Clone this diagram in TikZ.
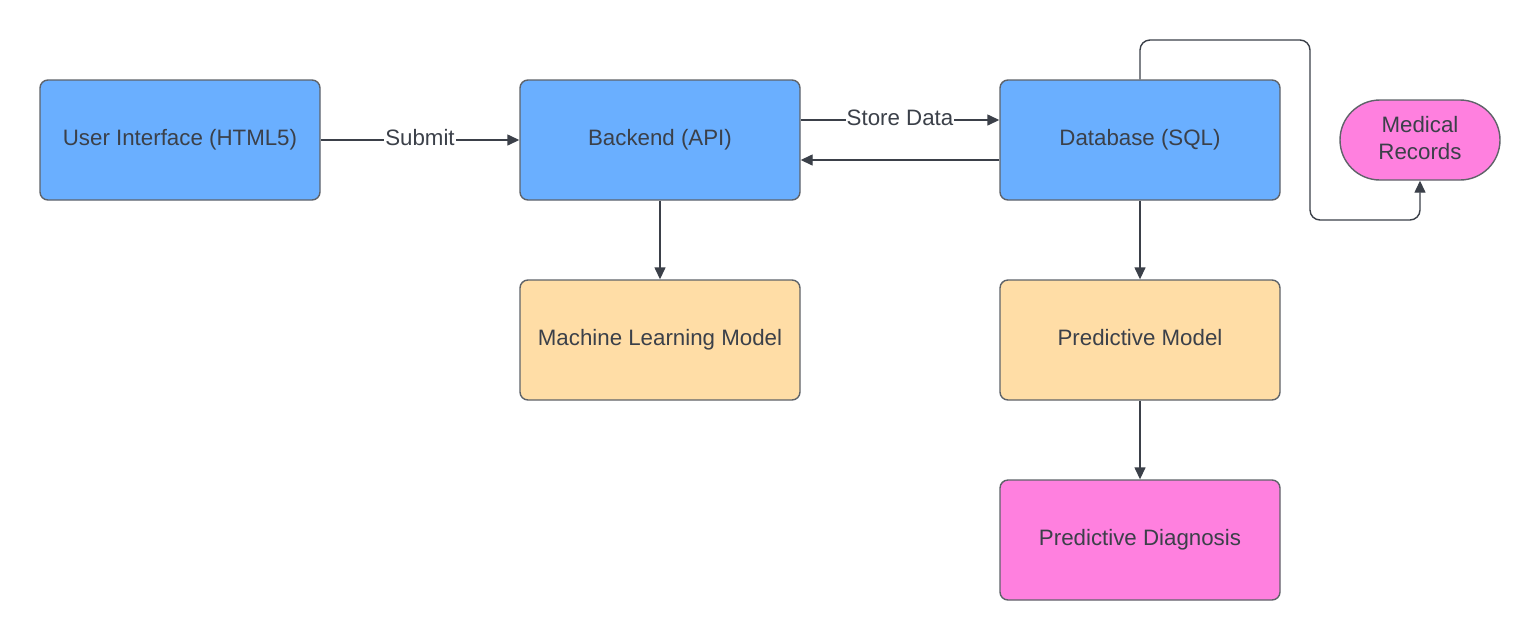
\documentclass[tikz,border=0pt]{standalone}
\usepackage{fontspec}
\setmainfont{Liberation Sans}
\usetikzlibrary{arrows.meta}
\definecolor{bluefill}{HTML}{6AAFFF}
\definecolor{orangefill}{HTML}{FFDDA6}
\definecolor{pinkfill}{HTML}{FF80DF}
\definecolor{txt}{HTML}{3B4049}
\definecolor{edge}{HTML}{5F6369}
\definecolor{lineclr}{HTML}{3B4049}
\begin{document}
\begin{tikzpicture}[x=1pt,y=-1pt,
  box/.style={draw=edge,line width=1.4pt,rounded corners=8pt,minimum width=280pt,minimum height=120pt,
    text=txt,font=\fontsize{22.3}{27}\selectfont,inner sep=0pt},
  single/.style={text height=16.3pt,text depth=4.7pt},
  bluebox/.style={box,single,fill=bluefill},
  orangebox/.style={box,single,fill=orangefill},
  pinkbox/.style={box,single,fill=pinkfill},
  arr/.style={draw=lineclr,line width=1.4pt,-{Triangle[length=12pt,width=11pt]}},
  lbl/.style={fill=white,text=txt,font=\fontsize{22.3}{27}\selectfont,inner sep=1pt,single}]
\useasboundingbox (0,0) rectangle (1540,641);
\fill[white] (0,0) rectangle (1540,641);
\node[bluebox] (ui) at (180,140) {User Interface (HTML5)};
\node[bluebox] (be) at (660,140) {Backend (API)};
\node[bluebox] (db) at (1140,140) {Database (SQL)};
\node[box,fill=pinkfill,align=center,minimum width=160pt,minimum height=80pt,rounded corners=40pt] (mr) at (1420,140) {Medical\\Records\rule{0pt}{0pt}\vspace{4pt}};
\node[orangebox] (ml) at (660,340) {Machine Learning Model};
\node[orangebox] (pm) at (1140,340) {Predictive Model};
\node[pinkbox] (pd) at (1140,540) {Predictive Diagnosis};
\coordinate (c1) at (1310,40);
\coordinate (c2) at (1310,220);
\draw[arr] (ui.east) -- node[lbl]{Submit} (be.west);
\draw[arr] ([yshift=20pt]be.east) -- node[lbl]{Store Data} ([yshift=20pt]db.west);
\draw[arr] ([yshift=-20pt]db.west) -- ([yshift=-20pt]be.east);
\draw[arr] (be.south) -- (ml.north);
\draw[arr] (db.south) -- (pm.north);
\draw[arr] (pm.south) -- (pd.north);
\draw[arr,rounded corners=10pt] (db.north) |- (c1) -- (c2) -| (mr.south);
\end{tikzpicture}
\end{document}
